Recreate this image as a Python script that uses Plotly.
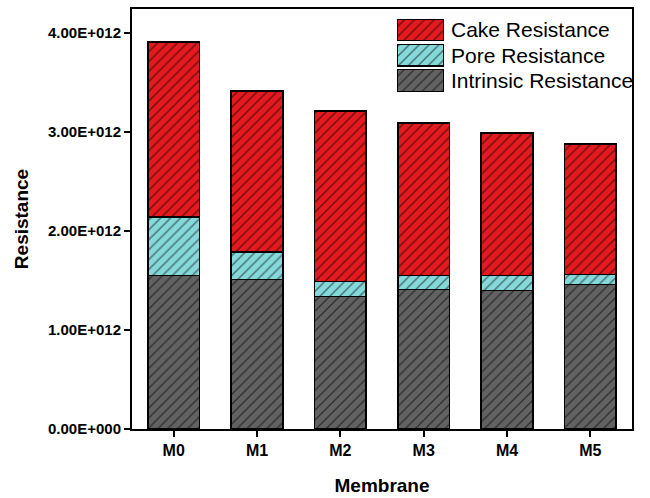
import plotly.graph_objects as go

# ---- data ----
membranes = ["M0", "M1", "M2", "M3", "M4", "M5"]
intrinsic = [1.554e12, 1.510e12, 1.341e12, 1.412e12, 1.402e12, 1.460e12]
pore = [0.589e12, 0.280e12, 0.149e12, 0.142e12, 0.149e12, 0.104e12]
cake = [1.768e12, 1.626e12, 1.724e12, 1.539e12, 1.441e12, 1.317e12]

series_names = ["Intrinsic Resistance", "Pore Resistance", "Cake Resistance"]
series_values = [intrinsic, pore, cake]
series_colors = ["#626262", "#86d9db", "#e31a1f"]

y_tickvals = [0, 1e12, 2e12, 3e12, 4e12]
y_ticktext = ["0.00E+000", "1.00E+012", "2.00E+012", "3.00E+012", "4.00E+012"]

FONT = "Liberation Sans, Arial, sans-serif"

fig = go.Figure()

for name, vals, col in zip(series_names, series_values, series_colors):
    fig.add_trace(go.Bar(
        x=membranes, y=vals, name=name, width=0.62,
        marker=dict(color=col, line=dict(color="black", width=1.5),
                    pattern=dict(shape="/", fgcolor="black", bgcolor=col,
                                 size=7, solidity=0.2)),
        showlegend=False, xaxis="x", yaxis="y",
    ))

# custom legend drawn as a tiny horizontal bar chart (swatches from series)
for name, col in zip(series_names, series_colors):
    fig.add_trace(go.Bar(
        y=[name], x=[1], orientation="h", width=0.86,
        marker=dict(color=col, line=dict(color="black", width=1.2),
                    pattern=dict(shape="/", fgcolor="black", bgcolor=col,
                                 size=7, solidity=0.2)),
        showlegend=False, xaxis="x2", yaxis="y2", hoverinfo="skip",
    ))

fig.update_layout(
    width=650, height=498,
    margin=dict(l=132, r=18, t=9, b=69, autoexpand=False),
    paper_bgcolor="white", plot_bgcolor="white",
    barmode="stack",
    font=dict(family=FONT, color="black"),
    xaxis=dict(
        range=[-0.5, 5.5], showline=True, linecolor="black", linewidth=2,
        mirror=True, ticks="outside", ticklen=6, tickwidth=2, tickcolor="black",
        tickfont=dict(size=16, family=FONT, weight="bold"),
        title=dict(text="<b>Membrane</b>", font=dict(size=19), standoff=20),
        showgrid=False, zeroline=False, automargin=False,
    ),
    yaxis=dict(
        range=[0, 4.245e12], showline=True, linecolor="black", linewidth=2,
        mirror=True, ticks="outside", ticklen=6, tickwidth=2, tickcolor="black",
        tickvals=y_tickvals, ticktext=y_ticktext,
        tickfont=dict(size=15, family=FONT, weight="bold"),
        title=dict(text="<b>Resistance</b>", font=dict(size=19), standoff=14),
        showgrid=False, zeroline=False, automargin=False,
    ),
    xaxis2=dict(domain=[0.53, 0.624], range=[0, 1], anchor="y2",
                visible=False, fixedrange=True, automargin=False),
    yaxis2=dict(domain=[0.80, 0.98], anchor="x2", side="right",
                categoryorder="array", categoryarray=series_names,
                tickmode="array", tickvals=series_names,
                showline=False, showgrid=False, zeroline=False, ticks="",
                tickfont=dict(size=21, family=FONT), ticklabelstandoff=6,
                fixedrange=True, automargin=False),
)

fig.write_html("out.html")
